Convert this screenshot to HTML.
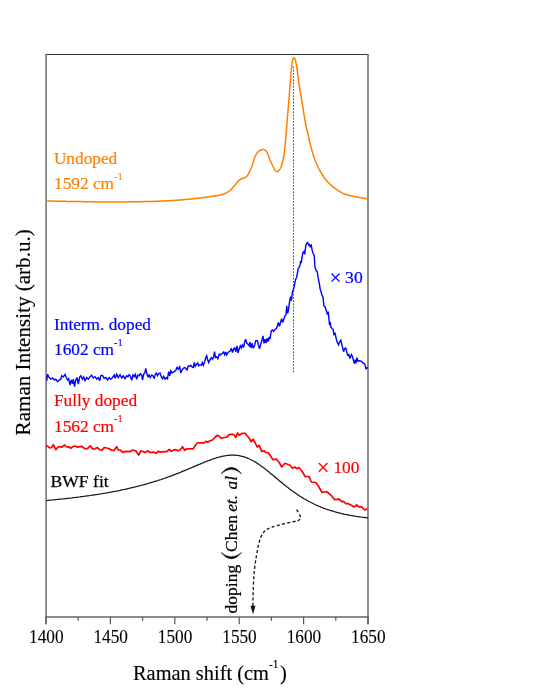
<!DOCTYPE html>
<html><head><meta charset="utf-8"><title>Raman spectra</title>
<style>
html,body{margin:0;padding:0;background:#fff;}
body{width:540px;height:699px;overflow:hidden;font-family:"Liberation Serif",serif;}
svg{display:block;will-change:transform;}
svg text{font-family:"Liberation Serif",serif;}
</style></head><body>
<svg width="540" height="699" viewBox="0 0 540 699">
<rect width="540" height="699" fill="#fff"/>
<!-- frame -->
<g fill="none">
<line x1="45.2" y1="54.5" x2="368.8" y2="54.5" stroke="#333" stroke-width="1.1"/>
<line x1="46.1" y1="54" x2="46.1" y2="624.3" stroke="#777" stroke-width="1.6"/>
<line x1="368" y1="54" x2="368" y2="624.3" stroke="#808080" stroke-width="1.8"/>
<line x1="45.2" y1="617" x2="368.9" y2="617" stroke="#666" stroke-width="1.5"/>
<g stroke="#555" stroke-width="1.2"><line x1="46.0" y1="617" x2="46.0" y2="624.3"/><line x1="110.4" y1="617" x2="110.4" y2="624.3"/><line x1="174.8" y1="617" x2="174.8" y2="624.3"/><line x1="239.2" y1="617" x2="239.2" y2="624.3"/><line x1="303.6" y1="617" x2="303.6" y2="624.3"/><line x1="368.0" y1="617" x2="368.0" y2="624.3"/><line x1="78.2" y1="617" x2="78.2" y2="620.8"/><line x1="142.6" y1="617" x2="142.6" y2="620.8"/><line x1="207.0" y1="617" x2="207.0" y2="620.8"/><line x1="271.4" y1="617" x2="271.4" y2="620.8"/><line x1="335.8" y1="617" x2="335.8" y2="620.8"/></g>
</g>
<!-- dotted guide -->
<line x1="293.5" y1="66.6" x2="293.5" y2="373.5" stroke="#5a5a5a" stroke-width="1" stroke-dasharray="1.8 1.4"/>
<!-- curves -->
<g fill="none" stroke-linejoin="miter" stroke-miterlimit="3" stroke-linecap="butt">
<path d="M46.0,201.0 L46.5,201.0 L47.0,201.0 L47.5,201.0 L48.0,201.0 L48.5,201.0 L49.0,201.1 L49.5,201.1 L50.0,201.1 L50.5,201.1 L51.0,201.1 L51.5,201.1 L52.0,201.1 L52.5,201.1 L53.0,201.1 L53.5,201.1 L54.0,201.1 L54.5,201.2 L55.0,201.2 L55.5,201.2 L56.0,201.2 L56.5,201.2 L57.0,201.2 L57.5,201.2 L58.0,201.2 L58.5,201.2 L59.0,201.2 L59.5,201.2 L60.0,201.2 L60.5,201.3 L61.0,201.3 L61.5,201.3 L62.0,201.3 L62.5,201.3 L63.0,201.3 L63.5,201.3 L64.0,201.3 L64.5,201.3 L65.0,201.3 L65.5,201.3 L66.0,201.3 L66.5,201.4 L67.0,201.4 L67.5,201.4 L68.0,201.4 L68.5,201.4 L69.0,201.4 L69.5,201.4 L70.0,201.4 L70.5,201.4 L71.0,201.4 L71.5,201.4 L72.0,201.5 L72.5,201.5 L73.0,201.5 L73.5,201.5 L74.0,201.5 L74.5,201.5 L75.0,201.5 L75.5,201.5 L76.0,201.5 L76.5,201.5 L77.0,201.5 L77.5,201.5 L78.0,201.6 L78.5,201.6 L79.0,201.6 L79.5,201.6 L80.0,201.6 L80.5,201.6 L81.0,201.6 L81.5,201.6 L82.0,201.6 L82.5,201.6 L83.0,201.7 L83.5,201.7 L84.0,201.7 L84.5,201.7 L85.0,201.7 L85.5,201.7 L86.0,201.7 L86.5,201.7 L87.0,201.7 L87.5,201.7 L88.0,201.8 L88.5,201.8 L89.0,201.8 L89.5,201.8 L90.0,201.8 L90.5,201.8 L91.0,201.8 L91.5,201.8 L92.0,201.8 L92.5,201.8 L93.0,201.9 L93.5,201.9 L94.0,201.9 L94.5,201.9 L95.0,201.9 L95.5,201.9 L96.0,201.9 L96.5,201.9 L97.0,201.9 L97.5,201.9 L98.0,201.9 L98.5,201.9 L99.0,201.9 L99.5,202.0 L100.0,202.0 L100.5,202.0 L101.0,202.0 L101.5,202.0 L102.0,202.0 L102.5,202.0 L103.0,202.0 L103.5,202.0 L104.0,202.0 L104.5,202.0 L105.0,202.0 L105.5,202.0 L106.0,202.0 L106.5,202.0 L107.0,202.0 L107.5,202.0 L108.0,202.0 L108.5,202.0 L109.0,202.0 L109.5,202.0 L110.0,202.0 L110.5,202.0 L111.0,202.0 L111.5,202.0 L112.0,202.0 L112.5,202.0 L113.0,202.0 L113.5,202.0 L114.0,202.0 L114.5,202.0 L115.0,202.0 L115.5,202.0 L116.0,202.0 L116.5,202.0 L117.0,202.0 L117.5,202.0 L118.0,202.0 L118.5,202.0 L119.0,202.0 L119.5,201.9 L120.0,201.9 L120.5,201.9 L121.0,201.9 L121.5,201.9 L122.0,201.9 L122.5,201.9 L123.0,201.9 L123.5,201.9 L124.0,201.9 L124.5,201.9 L125.0,201.9 L125.5,201.9 L126.0,201.9 L126.5,201.9 L127.0,201.9 L127.5,201.9 L128.0,201.9 L128.5,201.9 L129.0,201.8 L129.5,201.8 L130.0,201.8 L130.5,201.8 L131.0,201.8 L131.5,201.8 L132.0,201.8 L132.5,201.8 L133.0,201.8 L133.5,201.8 L134.0,201.8 L134.5,201.8 L135.0,201.8 L135.5,201.8 L136.0,201.8 L136.5,201.7 L137.0,201.7 L137.5,201.7 L138.0,201.7 L138.5,201.7 L139.0,201.7 L139.5,201.7 L140.0,201.7 L140.5,201.7 L141.0,201.7 L141.5,201.7 L142.0,201.7 L142.5,201.7 L143.0,201.6 L143.5,201.6 L144.0,201.6 L144.5,201.6 L145.0,201.6 L145.5,201.6 L146.0,201.6 L146.5,201.6 L147.0,201.6 L147.5,201.5 L148.0,201.5 L148.5,201.5 L149.0,201.5 L149.5,201.5 L150.0,201.5 L150.5,201.5 L151.0,201.4 L151.5,201.4 L152.0,201.4 L152.5,201.4 L153.0,201.4 L153.5,201.4 L154.0,201.3 L154.5,201.3 L155.0,201.3 L155.5,201.3 L156.0,201.3 L156.5,201.3 L157.0,201.2 L157.5,201.2 L158.0,201.2 L158.5,201.2 L159.0,201.2 L159.5,201.1 L160.0,201.1 L160.5,201.1 L161.0,201.1 L161.5,201.1 L162.0,201.0 L162.5,201.0 L163.0,201.0 L163.5,201.0 L164.0,201.0 L164.5,200.9 L165.0,200.9 L165.5,200.9 L166.0,200.9 L166.5,200.8 L167.0,200.8 L167.5,200.8 L168.0,200.8 L168.5,200.7 L169.0,200.7 L169.5,200.7 L170.0,200.7 L170.5,200.6 L171.0,200.6 L171.5,200.6 L172.0,200.5 L172.5,200.5 L173.0,200.5 L173.5,200.4 L174.0,200.4 L174.5,200.4 L175.0,200.3 L175.5,200.3 L176.0,200.3 L176.5,200.2 L177.0,200.2 L177.5,200.2 L178.0,200.1 L178.5,200.1 L179.0,200.1 L179.5,200.0 L180.0,200.0 L180.5,200.0 L181.0,199.9 L181.5,199.9 L182.0,199.8 L182.5,199.8 L183.0,199.8 L183.5,199.7 L184.0,199.7 L184.5,199.6 L185.0,199.6 L185.5,199.6 L186.0,199.5 L186.5,199.5 L187.0,199.4 L187.5,199.4 L188.0,199.3 L188.5,199.3 L189.0,199.2 L189.5,199.2 L190.0,199.1 L190.5,199.0 L191.0,199.0 L191.5,198.9 L192.0,198.9 L192.5,198.8 L193.0,198.7 L193.5,198.7 L194.0,198.6 L194.5,198.6 L195.0,198.5 L195.5,198.5 L196.0,198.4 L196.5,198.4 L197.0,198.3 L197.5,198.2 L198.0,198.2 L198.5,198.2 L199.0,198.1 L199.5,198.1 L200.0,198.0 L200.5,197.9 L201.0,197.9 L201.5,197.8 L202.0,197.8 L202.5,197.7 L203.0,197.6 L203.5,197.6 L204.0,197.5 L204.5,197.4 L205.0,197.3 L205.5,197.3 L206.0,197.2 L206.5,197.1 L207.0,197.1 L207.5,197.0 L208.0,196.9 L208.5,196.8 L209.0,196.7 L209.5,196.7 L210.0,196.6 L210.5,196.5 L211.0,196.5 L211.5,196.4 L212.0,196.3 L212.5,196.2 L213.0,196.2 L213.5,196.1 L214.0,196.0 L214.5,196.0 L215.0,195.9 L215.5,195.8 L216.0,195.7 L216.5,195.7 L217.0,195.6 L217.5,195.5 L218.0,195.4 L218.5,195.3 L219.0,195.2 L219.5,195.1 L220.0,195.0 L220.5,194.9 L221.0,194.8 L221.5,194.6 L222.0,194.5 L222.5,194.4 L223.0,194.2 L223.5,194.0 L224.0,193.9 L224.5,193.7 L225.0,193.5 L225.5,193.3 L226.0,193.1 L226.5,192.8 L227.0,192.5 L227.5,192.2 L228.0,191.9 L228.5,191.6 L229.0,191.2 L229.5,190.9 L230.0,190.5 L230.5,190.1 L231.0,189.6 L231.5,189.1 L232.0,188.5 L232.5,188.0 L233.0,187.4 L233.5,186.8 L234.0,186.2 L234.5,185.7 L235.0,185.1 L235.5,184.5 L236.0,183.8 L236.5,183.2 L237.0,182.6 L237.5,182.0 L238.0,181.4 L238.5,180.9 L239.0,180.5 L239.5,180.1 L240.0,179.7 L240.5,179.3 L241.0,179.0 L241.5,178.8 L242.0,178.6 L242.5,178.5 L243.0,178.4 L243.5,178.2 L244.0,178.1 L244.5,177.9 L245.0,177.6 L245.5,177.3 L246.0,176.9 L246.5,176.5 L247.0,176.0 L247.5,175.4 L248.0,174.7 L248.5,173.9 L249.0,173.0 L249.5,171.9 L250.0,170.8 L250.5,169.7 L251.0,168.4 L251.5,167.2 L252.0,165.9 L252.5,164.5 L253.0,162.9 L253.5,161.3 L254.0,159.7 L254.5,158.1 L255.0,156.7 L255.5,155.6 L256.0,154.7 L256.5,153.9 L257.0,153.1 L257.5,152.5 L258.0,151.9 L258.5,151.5 L259.0,151.1 L259.5,150.7 L260.0,150.4 L260.5,150.2 L261.0,150.0 L261.5,149.8 L262.0,149.6 L262.5,149.5 L263.0,149.4 L263.5,149.4 L264.0,149.5 L264.5,149.8 L265.0,150.1 L265.5,150.5 L266.0,151.0 L266.5,151.5 L267.0,152.3 L267.5,153.4 L268.0,154.7 L268.5,156.0 L269.0,157.4 L269.5,158.8 L270.0,160.0 L270.5,161.1 L271.0,162.2 L271.5,163.3 L272.0,164.4 L272.5,165.5 L273.0,166.4 L273.5,167.4 L274.0,168.3 L274.5,169.3 L275.0,170.1 L275.5,170.8 L276.0,171.1 L276.5,171.4 L277.0,171.6 L277.5,171.6 L278.0,171.3 L278.5,171.0 L279.0,170.5 L279.5,169.9 L280.0,169.0 L280.5,168.0 L281.0,166.8 L281.5,165.5 L282.0,164.1 L282.5,162.3 L283.0,160.1 L283.5,157.5 L284.0,154.6 L284.5,151.1 L285.0,146.4 L285.5,141.1 L286.0,135.5 L286.5,129.4 L287.0,123.0 L287.5,116.7 L288.0,110.6 L288.5,104.6 L289.0,98.5 L289.5,92.5 L290.0,86.1 L290.5,79.4 L291.0,73.1 L291.5,68.1 L292.0,63.8 L292.5,60.5 L293.0,58.8 L293.5,57.8 L294.0,57.7 L294.5,58.2 L295.0,59.1 L295.5,60.3 L296.0,62.6 L296.5,65.5 L297.0,68.6 L297.5,72.1 L298.0,76.0 L298.5,79.9 L299.0,83.6 L299.5,87.0 L300.0,90.1 L300.5,93.2 L301.0,96.1 L301.5,99.1 L302.0,102.0 L302.5,105.0 L303.0,108.1 L303.5,111.3 L304.0,114.5 L304.5,117.7 L305.0,120.6 L305.5,123.3 L306.0,125.7 L306.5,127.8 L307.0,129.9 L307.5,132.0 L308.0,134.3 L308.5,136.6 L309.0,139.0 L309.5,141.2 L310.0,143.3 L310.5,145.2 L311.0,147.1 L311.5,149.0 L312.0,150.7 L312.5,152.5 L313.0,154.1 L313.5,155.7 L314.0,157.2 L314.5,158.6 L315.0,160.0 L315.5,161.3 L316.0,162.5 L316.5,163.7 L317.0,164.8 L317.5,165.9 L318.0,167.0 L318.5,168.0 L319.0,169.0 L319.5,169.9 L320.0,170.8 L320.5,171.7 L321.0,172.5 L321.5,173.4 L322.0,174.2 L322.5,175.0 L323.0,175.8 L323.5,176.6 L324.0,177.3 L324.5,178.0 L325.0,178.7 L325.5,179.3 L326.0,180.0 L326.5,180.6 L327.0,181.1 L327.5,181.7 L328.0,182.2 L328.5,182.7 L329.0,183.2 L329.5,183.7 L330.0,184.2 L330.5,184.7 L331.0,185.1 L331.5,185.6 L332.0,186.0 L332.5,186.4 L333.0,186.8 L333.5,187.2 L334.0,187.6 L334.5,187.9 L335.0,188.3 L335.5,188.7 L336.0,189.0 L336.5,189.4 L337.0,189.7 L337.5,190.1 L338.0,190.4 L338.5,190.8 L339.0,191.1 L339.5,191.4 L340.0,191.7 L340.5,192.0 L341.0,192.3 L341.5,192.6 L342.0,192.9 L342.5,193.1 L343.0,193.4 L343.5,193.6 L344.0,193.8 L344.5,194.0 L345.0,194.2 L345.5,194.4 L346.0,194.5 L346.5,194.7 L347.0,194.8 L347.5,195.0 L348.0,195.1 L348.5,195.2 L349.0,195.4 L349.5,195.5 L350.0,195.6 L350.5,195.7 L351.0,195.9 L351.5,196.0 L352.0,196.1 L352.5,196.2 L353.0,196.3 L353.5,196.4 L354.0,196.5 L354.5,196.6 L355.0,196.7 L355.5,196.8 L356.0,196.9 L356.5,197.0 L357.0,197.1 L357.5,197.2 L358.0,197.3 L358.5,197.3 L359.0,197.4 L359.5,197.5 L360.0,197.6 L360.5,197.7 L361.0,197.8 L361.5,197.9 L362.0,198.0 L362.5,198.1 L363.0,198.1 L363.5,198.2 L364.0,198.3 L364.5,198.4 L365.0,198.4 L365.5,198.5 L366.0,198.6 L366.5,198.7 L367.0,198.7 L367.5,198.8" stroke="#ff8000" stroke-width="1.5" stroke-linejoin="round"/>
<path d="M46.7,380.8 L47.5,374.2 L49.2,377.5 L50.8,379.2 L52.5,378.0 L54.2,380.0 L55.8,379.2 L57.5,381.7 L59.2,380.0 L60.8,379.2 L61.7,375.8 L63.3,377.0 L65.0,374.2 L66.3,377.5 L67.5,380.0 L68.7,378.7 L70.0,385.0 L71.3,380.0 L72.5,383.7 L73.3,379.2 L74.5,386.7 L75.8,380.0 L77.0,377.5 L78.3,384.2 L79.7,377.0 L80.8,375.8 L82.5,379.2 L83.7,377.0 L85.0,380.8 L86.7,377.5 L88.3,379.2 L90.0,376.7 L91.7,375.3 L93.3,378.0 L95.0,376.7 L96.7,379.2 L98.3,377.5 L99.7,380.8 L100.8,375.8 L102.5,375.3 L104.2,378.3 L105.8,377.5 L107.5,380.0 L109.2,377.5 L110.8,379.2 L112.5,377.5 L114.2,375.0 L115.3,378.3 L116.7,374.2 L118.3,377.5 L120.0,374.7 L121.7,378.0 L123.3,375.8 L125.0,378.7 L126.7,375.8 L128.0,376.7 L129.2,374.7 L130.3,375.8 L131.7,380.3 L133.0,375.0 L134.2,376.7 L135.3,374.2 L136.7,379.2 L138.0,375.0 L139.2,375.8 L140.3,373.7 L141.7,375.0 L142.5,380.0 L143.7,374.2 L145.0,372.5 L145.7,368.3 L146.7,373.0 L148.0,376.7 L149.2,375.0 L150.3,377.5 L151.7,375.0 L153.0,375.8 L154.2,378.7 L155.3,374.2 L156.3,373.0 L157.5,375.8 L158.7,373.7 L160.0,373.0 L161.3,376.7 L162.5,378.7 L163.7,376.3 L165.0,379.2 L166.3,377.5 L167.5,378.7 L168.7,371.7 L169.7,375.8 L170.8,370.8 L172.0,373.0 L173.3,372.0 L174.7,371.3 L175.8,370.3 L177.0,367.5 L178.3,369.2 L179.7,366.7 L180.8,373.0 L182.0,370.0 L183.3,368.3 L184.7,367.5 L185.8,368.3 L187.0,370.0 L188.3,365.8 L189.7,366.3 L190.8,365.3 L192.0,367.0 L193.3,367.5 L194.3,362.5 L195.3,366.3 L196.7,364.2 L197.7,363.0 L198.7,365.8 L200.0,364.7 L201.3,365.3 L202.3,362.5 L203.3,365.3 L204.7,361.7 L205.8,357.5 L206.7,355.8 L207.7,359.7 L208.7,362.5 L209.7,360.0 L210.0,360.0 L211.3,357.5 L212.5,359.2 L213.7,356.7 L214.5,351.7 L215.5,357.5 L216.7,356.7 L217.8,358.7 L219.2,354.2 L220.8,354.7 L222.5,353.3 L223.7,352.0 L224.7,354.7 L225.8,352.0 L226.7,355.0 L228.0,352.5 L229.2,351.7 L230.3,350.8 L231.3,348.3 L232.5,352.5 L233.7,348.7 L234.7,348.0 L235.8,351.7 L237.0,345.8 L238.0,353.0 L239.2,348.7 L240.3,345.8 L241.3,348.0 L242.5,345.0 L243.7,347.5 L244.7,341.7 L245.7,339.2 L246.7,343.0 L248.0,344.2 L249.2,345.8 L250.0,342.0 L251.0,348.0 L252.0,343.3 L253.3,348.3 L254.7,345.0 L255.8,340.8 L257.5,340.8 L258.3,344.7 L259.5,348.7 L260.7,344.2 L262.0,340.0 L263.0,335.8 L264.0,343.3 L265.0,339.2 L266.0,343.0 L267.0,338.3 L268.0,341.7 L269.2,337.0 L270.0,339.2 L271.3,330.8 L272.5,330.0 L273.7,331.3 L275.0,329.2 L276.3,328.7 L277.5,325.8 L278.3,322.5 L279.5,326.3 L280.7,321.7 L281.7,318.7 L282.7,322.5 L283.8,319.2 L285.0,315.8 L286.0,315.0 L286.7,305.8 L287.7,313.3 L288.7,308.3 L289.4,302.8 L290.6,296.7 L291.4,300.6 L292.4,292.2 L293.9,287.8 L295.6,279.4 L296.7,277.2 L298.3,268.3 L299.8,266.1 L300.6,261.7 L301.3,262.2 L302.8,252.8 L303.9,251.7 L304.7,254.4 L305.8,245.6 L306.7,243.3 L307.6,242.6 L308.7,245.0 L309.4,244.4 L310.2,246.7 L311.3,245.2 L312.2,250.6 L313.1,253.3 L314.2,255.6 L315.0,267.2 L316.1,270.6 L317.2,271.7 L318.3,278.3 L319.4,283.9 L320.2,289.4 L321.1,291.7 L321.9,295.0 L323.0,297.3 L323.9,305.9 L325.1,307.0 L326.4,311.0 L327.4,314.5 L328.2,311.6 L329.0,319.6 L329.6,325.3 L330.2,321.9 L330.8,327.0 L332.2,328.8 L333.1,329.3 L333.9,334.5 L335.0,333.3 L336.2,338.5 L337.3,342.5 L338.5,344.8 L339.6,341.9 L340.8,340.2 L341.6,343.6 L342.5,347.1 L343.6,351.7 L344.5,348.8 L345.7,347.9 L346.5,351.1 L347.6,355.1 L348.8,354.5 L349.9,358.5 L351.4,354.5 L352.5,356.8 L353.3,359.7 L354.5,363.7 L355.3,359.7 L356.0,363.1 L356.9,357.7 L357.9,361.2 L359.6,360.8 L361.4,361.4 L363.1,363.1 L364.8,364.2 L365.9,368.8 L367.1,367.7 L367.9,368.2" stroke="#0000ff" stroke-width="1.4"/>
<path d="M46.0,500.6 L47.0,500.5 L48.0,500.4 L49.0,500.3 L50.0,500.2 L51.0,500.1 L52.0,500.0 L53.0,499.9 L54.0,499.8 L55.0,499.7 L56.0,499.6 L57.0,499.5 L58.0,499.4 L59.0,499.3 L60.0,499.2 L61.0,499.1 L62.0,499.0 L63.0,498.9 L64.0,498.8 L65.0,498.7 L66.0,498.6 L67.0,498.4 L68.0,498.3 L69.0,498.2 L70.0,498.1 L71.0,498.0 L72.0,497.9 L73.0,497.7 L74.0,497.6 L75.0,497.5 L76.0,497.4 L77.0,497.3 L78.0,497.1 L79.0,497.0 L80.0,496.9 L81.0,496.7 L82.0,496.6 L83.0,496.5 L84.0,496.3 L85.0,496.2 L86.0,496.1 L87.0,495.9 L88.0,495.8 L89.0,495.7 L90.0,495.5 L91.0,495.4 L92.0,495.2 L93.0,495.1 L94.0,494.9 L95.0,494.8 L96.0,494.6 L97.0,494.5 L98.0,494.3 L99.0,494.2 L100.0,494.0 L101.0,493.8 L102.0,493.7 L103.0,493.5 L104.0,493.3 L105.0,493.2 L106.0,493.0 L107.0,492.8 L108.0,492.6 L109.0,492.5 L110.0,492.3 L111.0,492.1 L112.0,491.9 L113.0,491.7 L114.0,491.5 L115.0,491.3 L116.0,491.2 L117.0,491.0 L118.0,490.8 L119.0,490.6 L120.0,490.4 L121.0,490.1 L122.0,489.9 L123.0,489.7 L124.0,489.5 L125.0,489.3 L126.0,489.1 L127.0,488.9 L128.0,488.6 L129.0,488.4 L130.0,488.2 L131.0,487.9 L132.0,487.7 L133.0,487.5 L134.0,487.2 L135.0,487.0 L136.0,486.7 L137.0,486.5 L138.0,486.2 L139.0,486.0 L140.0,485.7 L141.0,485.5 L142.0,485.2 L143.0,484.9 L144.0,484.7 L145.0,484.4 L146.0,484.1 L147.0,483.8 L148.0,483.5 L149.0,483.2 L150.0,482.9 L151.0,482.6 L152.0,482.3 L153.0,482.0 L154.0,481.7 L155.0,481.4 L156.0,481.1 L157.0,480.8 L158.0,480.5 L159.0,480.1 L160.0,479.8 L161.0,479.5 L162.0,479.1 L163.0,478.8 L164.0,478.5 L165.0,478.1 L166.0,477.8 L167.0,477.4 L168.0,477.0 L169.0,476.7 L170.0,476.3 L171.0,475.9 L172.0,475.6 L173.0,475.2 L174.0,474.8 L175.0,474.4 L176.0,474.0 L177.0,473.6 L178.0,473.3 L179.0,472.9 L180.0,472.5 L181.0,472.1 L182.0,471.6 L183.0,471.2 L184.0,470.8 L185.0,470.4 L186.0,470.0 L187.0,469.6 L188.0,469.2 L189.0,468.7 L190.0,468.3 L191.0,467.9 L192.0,467.5 L193.0,467.1 L194.0,466.6 L195.0,466.2 L196.0,465.8 L197.0,465.4 L198.0,464.9 L199.0,464.5 L200.0,464.1 L201.0,463.7 L202.0,463.3 L203.0,462.8 L204.0,462.4 L205.0,462.0 L206.0,461.6 L207.0,461.2 L208.0,460.9 L209.0,460.5 L210.0,460.1 L211.0,459.7 L212.0,459.4 L213.0,459.0 L214.0,458.7 L215.0,458.4 L216.0,458.0 L217.0,457.7 L218.0,457.4 L219.0,457.2 L220.0,456.9 L221.0,456.7 L222.0,456.4 L223.0,456.2 L224.0,456.0 L225.0,455.8 L226.0,455.7 L227.0,455.5 L228.0,455.4 L229.0,455.3 L230.0,455.2 L231.0,455.2 L232.0,455.2 L233.0,455.2 L234.0,455.2 L235.0,455.2 L236.0,455.3 L237.0,455.4 L238.0,455.5 L239.0,455.7 L240.0,455.9 L241.0,456.1 L242.0,456.3 L243.0,456.6 L244.0,456.9 L245.0,457.2 L246.0,457.5 L247.0,457.9 L248.0,458.3 L249.0,458.8 L250.0,459.2 L251.0,459.7 L252.0,460.2 L253.0,460.8 L254.0,461.3 L255.0,461.9 L256.0,462.5 L257.0,463.1 L258.0,463.8 L259.0,464.5 L260.0,465.2 L261.0,465.9 L262.0,466.6 L263.0,467.3 L264.0,468.1 L265.0,468.9 L266.0,469.6 L267.0,470.4 L268.0,471.2 L269.0,472.0 L270.0,472.9 L271.0,473.7 L272.0,474.5 L273.0,475.3 L274.0,476.2 L275.0,477.0 L276.0,477.8 L277.0,478.7 L278.0,479.5 L279.0,480.4 L280.0,481.2 L281.0,482.0 L282.0,482.8 L283.0,483.7 L284.0,484.5 L285.0,485.3 L286.0,486.1 L287.0,486.9 L288.0,487.6 L289.0,488.4 L290.0,489.2 L291.0,489.9 L292.0,490.7 L293.0,491.4 L294.0,492.1 L295.0,492.8 L296.0,493.5 L297.0,494.2 L298.0,494.9 L299.0,495.5 L300.0,496.2 L301.0,496.8 L302.0,497.5 L303.0,498.1 L304.0,498.7 L305.0,499.3 L306.0,499.8 L307.0,500.4 L308.0,501.0 L309.0,501.5 L310.0,502.0 L311.0,502.5 L312.0,503.0 L313.0,503.5 L314.0,504.0 L315.0,504.5 L316.0,505.0 L317.0,505.4 L318.0,505.8 L319.0,506.3 L320.0,506.7 L321.0,507.1 L322.0,507.5 L323.0,507.9 L324.0,508.3 L325.0,508.6 L326.0,509.0 L327.0,509.3 L328.0,509.7 L329.0,510.0 L330.0,510.3 L331.0,510.6 L332.0,510.9 L333.0,511.2 L334.0,511.5 L335.0,511.8 L336.0,512.1 L337.0,512.4 L338.0,512.6 L339.0,512.9 L340.0,513.1 L341.0,513.4 L342.0,513.6 L343.0,513.8 L344.0,514.1 L345.0,514.3 L346.0,514.5 L347.0,514.7 L348.0,514.9 L349.0,515.1 L350.0,515.3 L351.0,515.5 L352.0,515.6 L353.0,515.8 L354.0,516.0 L355.0,516.1 L356.0,516.3 L357.0,516.5 L358.0,516.6 L359.0,516.8 L360.0,516.9 L361.0,517.0 L362.0,517.2 L363.0,517.3 L364.0,517.4 L365.0,517.6 L366.0,517.7 L367.0,517.8 L368.0,517.9" stroke="#1a1a1a" stroke-width="1.25"/>
<path d="M46.0,445.3 L48.3,446.7 L49.7,448.0 L51.7,447.5 L53.3,444.7 L55.8,449.7 L58.0,447.0 L60.0,446.7 L61.7,447.2 L64.7,445.0 L66.7,447.0 L68.7,446.7 L70.8,448.3 L73.3,446.3 L75.3,446.0 L77.5,447.2 L80.0,446.7 L82.0,446.3 L84.7,448.7 L87.5,448.7 L90.3,445.8 L93.0,449.2 L95.0,448.7 L97.0,447.5 L99.7,449.7 L102.0,450.3 L104.2,447.5 L106.7,448.0 L109.2,448.7 L111.7,450.3 L114.2,450.3 L116.7,446.7 L118.3,450.0 L120.0,450.0 L123.3,452.5 L125.0,451.3 L130.0,451.7 L132.5,450.0 L135.8,450.8 L138.7,455.0 L140.8,450.8 L143.3,451.7 L145.3,452.5 L147.5,450.8 L150.0,452.5 L154.2,452.2 L156.3,453.3 L158.3,451.2 L160.3,452.2 L164.2,451.7 L166.7,451.7 L169.2,449.5 L171.3,451.3 L173.7,450.0 L175.8,449.7 L178.0,450.8 L180.0,450.0 L182.5,446.7 L184.7,450.3 L187.0,448.8 L193.3,448.8 L195.8,444.7 L197.8,442.5 L200.0,443.3 L201.7,442.5 L203.3,443.3 L205.8,441.3 L207.5,442.2 L210.0,440.8 L212.5,440.0 L215.0,437.2 L217.5,435.3 L219.2,436.3 L221.3,438.3 L224.2,437.5 L226.7,437.2 L229.2,434.7 L232.5,434.2 L234.2,435.0 L235.8,437.5 L237.5,433.0 L239.2,435.3 L240.8,434.2 L242.5,433.3 L245.0,433.3 L247.0,435.8 L249.2,438.3 L251.2,441.7 L253.0,439.2 L255.0,442.5 L257.2,447.0 L259.2,445.3 L261.7,451.3 L264.2,450.8 L265.8,452.5 L268.0,452.5 L270.3,455.8 L273.0,459.7 L276.7,459.2 L279.2,462.5 L281.7,467.0 L285.0,463.3 L287.5,464.2 L290.0,465.3 L292.5,468.3 L294.7,467.0 L296.7,468.7 L298.7,467.5 L301.7,470.8 L305.0,476.3 L309.2,476.7 L311.3,482.0 L315.8,482.5 L318.3,485.8 L322.0,492.5 L326.7,491.7 L330.8,495.0 L334.7,499.7 L339.2,499.2 L341.7,501.7 L343.7,501.3 L345.8,503.7 L348.3,503.7 L351.3,505.3 L354.2,507.0 L356.7,505.0 L359.2,507.0 L361.7,506.7 L364.7,510.0 L367.5,508.7" stroke="#ff0000" stroke-width="1.7" stroke-linejoin="round"/>
<path d="M296.7,509.6 C298,512 300.2,515.5 300.6,517.1 C300.8,519 299.5,520.2 297.8,520.7 C294,521.7 284,523.6 276.7,525.6 C272,527 269.5,527.8 267.8,528.9 C265,530.6 263.3,532.2 262.2,534.4 C260.6,537.4 259.6,540.2 258.9,543.3 C258,547 257.3,550.5 256.7,554.4 C255.8,559.5 255,564.5 254.4,570 C253.8,576 253.5,581.5 253.3,587.8 C253.1,593.5 253,599 252.9,606" stroke="#111" stroke-width="1.3" stroke-dasharray="3.1 2.2" stroke-linecap="butt"/>
</g>
<path d="M250.5,605.8 L255.5,605.8 L253,614.2 Z" fill="#111"/>
<!-- tick labels -->
<g font-size="17.6" fill="#000" stroke="#000" stroke-width="0.1"><text transform="translate(46.3,642.8) scale(0.98,1.06)" text-anchor="middle">1400</text><text transform="translate(110.7,642.8) scale(0.98,1.06)" text-anchor="middle">1450</text><text transform="translate(175.1,642.8) scale(0.98,1.06)" text-anchor="middle">1500</text><text transform="translate(239.5,642.8) scale(0.98,1.06)" text-anchor="middle">1550</text><text transform="translate(303.9,642.8) scale(0.98,1.06)" text-anchor="middle">1600</text><text transform="translate(368.3,642.8) scale(0.98,1.06)" text-anchor="middle">1650</text></g>
<!-- axis labels -->
<text x="133" y="680" font-size="20.4" fill="#000" stroke="#000" stroke-width="0.15">Raman shift (cm<tspan font-size="11.5" dy="-12.4">-1</tspan><tspan dy="12.4" dx="1.5">)</tspan></text>
<text transform="translate(29.5,435.4) rotate(-90)" font-size="21.1" fill="#000" stroke="#000" stroke-width="0.15">Raman Intensity (arb.u.)</text>
<!-- annotations -->
<g font-size="17.3">
<g fill="#ff8000" stroke="#ff8000" stroke-width="0.2">
<text x="53.9" y="163.6">Undoped</text>
<text x="54" y="189.3">1592 cm<tspan font-size="10.5" dy="-9.6" dx="-0.1" stroke-width="0.1">-1</tspan></text>
</g>
<g fill="#0000ff" stroke="#0000ff" stroke-width="0.2">
<text x="54" y="329.7">Interm. doped</text>
<text x="54" y="355.1">1602 cm<tspan font-size="10.5" dy="-9.6" dx="-0.1" stroke-width="0.1">-1</tspan></text>
<path d="M331.5,273.5 L339.6,281.6 M331.5,281.6 L339.6,273.5" stroke-width="1.25" fill="none"/><text x="345.1" y="282.8" font-size="17.6">30</text>
</g>
<g fill="#ff0000" stroke="#ff0000" stroke-width="0.2">
<text x="54" y="406.3">Fully doped</text>
<text x="54" y="431.6">1562 cm<tspan font-size="10.5" dy="-9.6" dx="-0.1" stroke-width="0.1">-1</tspan></text>
<path d="M318.7,463 L327.4,471.7 M318.7,471.7 L327.4,463" stroke-width="1.25" fill="none"/><text x="333.4" y="472.8">100</text>
</g>
<text x="50.5" y="487.2" fill="#000" stroke="#000" stroke-width="0.25" font-size="17.6">BWF fit</text>
</g>
<!-- rotated annotation -->
<g transform="translate(237,613.4) rotate(-90)" font-size="17.5" fill="#000" stroke="#000" stroke-width="0.2">
<text x="0" y="0">doping</text>
<path d="M60.9,-16 Q48.2,-5.6 60.9,4.7 Q52.2,-5.6 60.9,-16 Z" stroke="#000" stroke-width="0.5" stroke-linejoin="round"/>
<text x="61.5" y="0">Chen</text>
<text x="101.6" y="0" font-style="italic" font-size="17.3">et.</text>
<text x="124" y="0" font-style="italic" font-size="17.3">al</text>
<path d="M139.6,-16 Q152.6,-5.6 139.6,4.7 Q148.6,-5.6 139.6,-16 Z" stroke="#000" stroke-width="0.5" stroke-linejoin="round"/>
</g>
</svg>
</body></html>
